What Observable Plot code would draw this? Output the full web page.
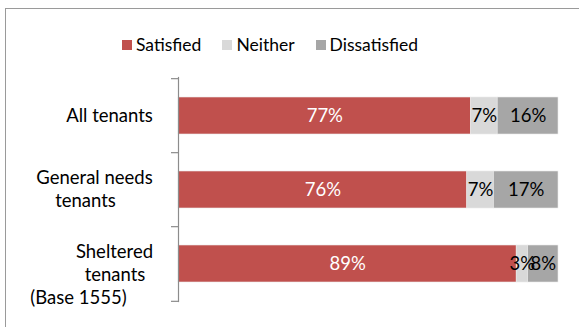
<!DOCTYPE html>
<html><head><meta charset="utf-8">
<script src="https://cdn.jsdelivr.net/npm/d3@7"></script>
<script src="https://cdn.jsdelivr.net/npm/@observablehq/plot@0.6"></script>
<style>
body{margin:0;background:#fff;font-family:Lato,"Open Sans",sans-serif;}
#wrap{position:relative;width:579px;height:327px;overflow:hidden;}
#frame{position:absolute;left:5px;top:8px;width:700px;height:400px;border:1px solid #9a9a9a;}
#legend{position:absolute;top:34px;left:122px;display:flex;gap:21px;font-size:17.5px;color:#000;white-space:nowrap;}
#legend span.sw{display:inline-block;width:10px;height:10px;margin-right:4px;vertical-align:1px;}
#chart{position:absolute;left:0;top:0;}
</style></head>
<body><div id="wrap"><div id="frame"></div><div id="legend"></div><div id="chart"></div></div>
<script>
const categories = ["All tenants", "General needs tenants", "Sheltered tenants (Base 1555)"];
const responses = ["Satisfied", "Neither", "Dissatisfied"];
const satisfied = [77, 76, 89];
const neither = [7, 7, 3];
const dissatisfied = [16, 17, 8];
const colors = ["#C0504D", "#D9D9D9", "#A6A6A6"];

const W = 579, H = 327, mt = 77, mb = 26, ml = 178, mr = 21;
const step = (H - mt - mb) / categories.length;
const FS = 18.5;

const series = [satisfied, neither, dissatisfied];
const rows = [];
categories.forEach((c, i) => responses.forEach((r, j) => rows.push({cat: c, resp: r, value: series[j][i]})));

// Category label lines (wrapped as in the original)
const labelLines = [
  {cat: categories[0], text: "All tenants", dx: -69, dy: 0},
  {cat: categories[1], text: "General needs", dx: -84, dy: -11.5},
  {cat: categories[1], text: "tenants", dx: -93, dy: 11.5},
  {cat: categories[2], text: "Sheltered", dx: -64, dy: -11.5},
  {cat: categories[2], text: "tenants", dx: -63.5, dy: 11.5},
  {cat: categories[2], text: "(Base 1555)", dx: -100, dy: 34.5}
];

const legend = document.getElementById("legend");
responses.forEach((r, i) => {
  const d = document.createElement("div");
  d.innerHTML = `<span class="sw" style="background:${colors[i]}"></span>${r}`;
  legend.appendChild(d);
});

const axisStyle = {stroke: "#8c8c8c", strokeWidth: 1.2};
const chart = Plot.plot({
  width: W, height: H,
  marginTop: mt, marginBottom: mb, marginLeft: ml, marginRight: mr,
  style: {fontFamily: "Lato, 'Open Sans', sans-serif", fontSize: FS + "px", background: "transparent"},
  x: {domain: [0, 100], axis: null},
  y: {domain: categories, paddingInner: 0.5, paddingOuter: 0.25, axis: null},
  color: {domain: responses, range: colors},
  marks: [
    Plot.barX(rows, {x: "value", y: "cat", fill: "resp", stroke: "#ececec", strokeWidth: 0.6}),
    Plot.text(rows, Plot.stackX({x: "value", y: "cat", text: d => d.value + "%",
      fill: d => d.resp === "Satisfied" ? "white" : "black", fontSize: FS})),
    Plot.frame({anchor: "left", ...axisStyle}),
    Plot.ruleY(categories, {y: d => d, x1: 0, x2: 0, insetLeft: -7, dy: -step / 2, ...axisStyle}),
    Plot.ruleY(categories.slice(-1), {y: d => d, x1: 0, x2: 0, insetLeft: -7, dy: step / 2, ...axisStyle}),
    ...labelLines.map(l => Plot.text([l], {x: 0, y: "cat", text: "text", dx: l.dx, dy: l.dy,
      textAnchor: "middle", fontSize: FS, fill: "black"}))
  ]
});
document.getElementById("chart").appendChild(chart);
</script></body></html>
